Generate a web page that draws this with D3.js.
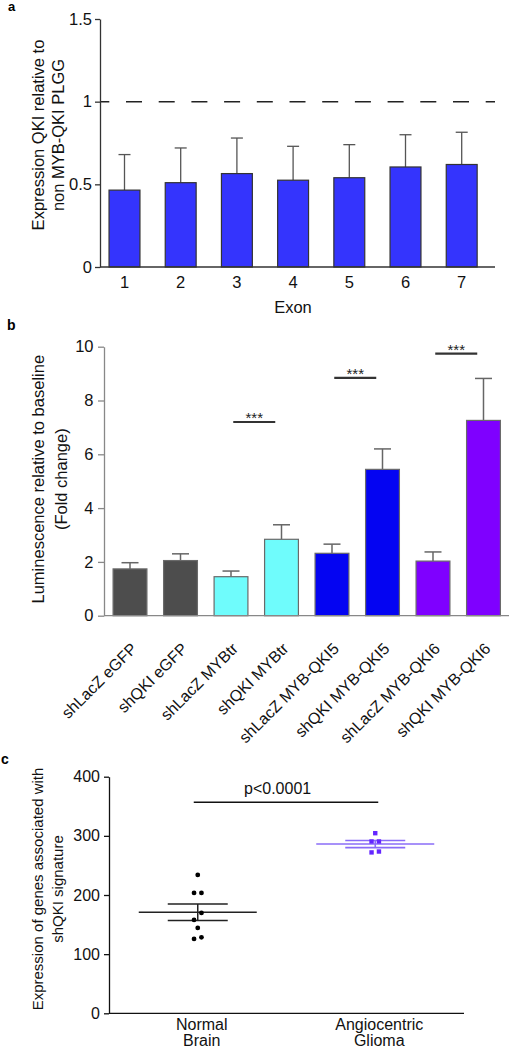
<!DOCTYPE html>
<html>
<head>
<meta charset="utf-8">
<script src="https://cdn.jsdelivr.net/npm/d3@7"></script>
<style>
  html, body { margin: 0; padding: 0; background: #fff; }
  svg { display: block; font-family: "Liberation Sans", Arial, sans-serif; }
</style>
</head>
<body>
<svg id="chart" width="509" height="1050"></svg>
<script>
// ---------- Panel a data ----------
const exons = ["1", "2", "3", "4", "5", "6", "7"];
const exonMeans = [0.465, 0.51, 0.565, 0.525, 0.54, 0.605, 0.62];
const exonErrTop = [0.68, 0.72, 0.78, 0.73, 0.74, 0.80, 0.815];
const aTicks = [0, 0.5, 1, 1.5];
const aRefLine = 1;

// ---------- Panel b data ----------
const conditions = ["shLacZ eGFP", "shQKI eGFP", "shLacZ MYBtr", "shQKI MYBtr",
                    "shLacZ MYB-QKI5", "shQKI MYB-QKI5", "shLacZ MYB-QKI6", "shQKI MYB-QKI6"];
const lumMeans = [1.74, 2.05, 1.45, 2.84, 2.32, 5.44, 2.03, 7.26];
const lumErrTop = [1.97, 2.30, 1.66, 3.38, 2.66, 6.20, 2.37, 8.82];
const conditionGroups = ["eGFP", "eGFP", "MYBtr", "MYBtr", "QKI5", "QKI5", "QKI6", "QKI6"];
const bTicks = [0, 2, 4, 6, 8, 10];
const sigPairsB = [["shLacZ MYBtr", "shQKI MYBtr"], ["shLacZ MYB-QKI5", "shQKI MYB-QKI5"], ["shLacZ MYB-QKI6", "shQKI MYB-QKI6"]];
const sigLevelsB = [7.2, 8.84, 9.74];
const sigLabelsB = ["***", "***", "***"];

// ---------- Panel c data ----------
const groupsC = ["Normal Brain", "Angiocentric Glioma"];
const groupLabelsC = [["Normal", "Brain"], ["Angiocentric", "Glioma"]];
const normalValues = [233.9, 203.5, 203.5, 169.7, 157.8, 144.3, 125.7, 128.5];
const gliomaValues = [304.5, 290.5, 290.5, 272.0, 273.5];
const cTicks = [0, 100, 200, 300, 400];
const cSigLevel = 357;
const cSigText = "p<0.0001";

// ---------- styles ----------
const FONT = "'Liberation Sans', Arial, sans-serif";
const groupColor = { eGFP: "#4d4d4d", MYBtr: "#6ffcfc", QKI5: "#0404f2", QKI6: "#7f00ff" };

const svg = d3.select("#chart");

function styleAxis(g, color, fs) {
  g.selectAll("path.domain").attr("stroke", color).attr("stroke-width", 1.3);
  g.selectAll(".tick line").attr("stroke", color).attr("stroke-width", 1.3);
  g.selectAll(".tick text").attr("fill", "#111").attr("font-size", fs).attr("font-family", FONT);
}

// ================= Panel a =================
(function () {
  const left = 100, right = 495, top = 19, bottom = 267;
  const y = d3.scaleLinear().domain([0, 1.5]).range([bottom, top]);
  const x = d3.scaleBand().domain(exons).range([97.8, 488.4]).paddingInner(0.45).paddingOuter(0.2);
  const g = svg.append("g");

  g.append("line").attr("x1", left).attr("x2", right).attr("y1", y(aRefLine)).attr("y2", y(aRefLine))
    .attr("stroke", "#222").attr("stroke-width", 1.5).attr("stroke-dasharray", "16 16.7").attr("stroke-dashoffset", 6.7);

  exons.forEach((e, i) => {
    const cx = x(e) + x.bandwidth() / 2;
    g.append("line").attr("x1", cx).attr("x2", cx).attr("y1", y(exonMeans[i])).attr("y2", y(exonErrTop[i]))
      .attr("stroke", "#555").attr("stroke-width", 1.3);
    g.append("line").attr("x1", cx - 6).attr("x2", cx + 6).attr("y1", y(exonErrTop[i])).attr("y2", y(exonErrTop[i]))
      .attr("stroke", "#555").attr("stroke-width", 1.3);
  });
  g.selectAll("rect.a").data(exons).join("rect")
    .attr("x", d => x(d)).attr("width", x.bandwidth())
    .attr("y", (d, i) => y(exonMeans[i])).attr("height", (d, i) => bottom - y(exonMeans[i]))
    .attr("fill", "#3434fd").attr("stroke", "#333").attr("stroke-width", 1.2);

  const ya = g.append("g").attr("transform", `translate(${left},0)`)
    .call(d3.axisLeft(y).tickValues(aTicks).tickFormat(d => String(d)).tickSize(5).tickSizeOuter(0).tickPadding(3));
  styleAxis(ya, "#333", 16.5);
  g.append("line").attr("x1", left).attr("x2", right).attr("y1", bottom).attr("y2", bottom)
    .attr("stroke", "#333").attr("stroke-width", 1.3);
  const xa = g.append("g").attr("transform", `translate(0,${bottom})`)
    .call(d3.axisBottom(x).tickSize(0).tickPadding(9));
  xa.select("path.domain").remove();
  styleAxis(xa, "#333", 16.5);

  g.append("text").attr("x", 293).attr("y", 313).attr("text-anchor", "middle")
    .attr("font-size", 16.5).attr("font-family", FONT).attr("fill", "#111").text("Exon");
  const lab = g.append("text").attr("transform", `translate(0,${(top + bottom) / 2 - 8}) rotate(-90)`)
    .attr("text-anchor", "middle").attr("font-size", 16.5).attr("font-family", FONT).attr("fill", "#111");
  lab.append("tspan").attr("x", 0).attr("y", 43.5).text("Expression QKI relative to");
  lab.append("tspan").attr("x", 0).attr("y", 63.5).text("non MYB-QKI PLGG");

  svg.append("text").attr("x", 8).attr("y", 11).attr("font-size", 13).attr("font-weight", "bold")
    .attr("font-family", FONT).text("a");
})();

// ================= Panel b =================
(function () {
  const left = 104, right = 509.5, top = 346.7, bottom = 615.7;
  const y = d3.scaleLinear().domain([0, 10]).range([bottom, top]);
  const x = d3.scaleBand().domain(conditions).range([left, right]).paddingInner(0.33).paddingOuter(0.18);
  const g = svg.append("g");
  const bw = x.bandwidth();

  conditions.forEach((c, i) => {
    const cx = x(c) + bw / 2;
    g.append("line").attr("x1", cx).attr("x2", cx).attr("y1", y(lumMeans[i])).attr("y2", y(lumErrTop[i]))
      .attr("stroke", "#666").attr("stroke-width", 1.5);
    g.append("line").attr("x1", cx - 8.5).attr("x2", cx + 8.5).attr("y1", y(lumErrTop[i])).attr("y2", y(lumErrTop[i]))
      .attr("stroke", "#666").attr("stroke-width", 1.5);
  });
  g.selectAll("rect.b").data(conditions).join("rect")
    .attr("x", d => x(d)).attr("width", bw)
    .attr("y", (d, i) => y(lumMeans[i])).attr("height", (d, i) => bottom - y(lumMeans[i]))
    .attr("fill", (d, i) => groupColor[conditionGroups[i]]).attr("stroke", "#6a6a6a").attr("stroke-width", 1.2);

  sigPairsB.forEach((p, i) => {
    const mid = (x(p[0]) + x(p[1]) + bw) / 2 - 2;
    const yy = y(sigLevelsB[i]);
    g.append("line").attr("x1", mid - 21).attr("x2", mid + 21).attr("y1", yy).attr("y2", yy)
      .attr("stroke", "#333").attr("stroke-width", 2.2);
    g.append("text").attr("x", mid).attr("y", yy + 1).attr("text-anchor", "middle")
      .attr("font-size", 15).attr("font-family", FONT).attr("fill", "#222").text(sigLabelsB[i]);
  });

  const ya = g.append("g").attr("transform", `translate(${left},0)`)
    .call(d3.axisLeft(y).tickValues(bTicks).tickSize(6).tickSizeOuter(0).tickPadding(4.5));
  styleAxis(ya, "#888", 16.5);
  g.append("line").attr("x1", left).attr("x2", right).attr("y1", bottom).attr("y2", bottom)
    .attr("stroke", "#888").attr("stroke-width", 1.3);

  g.selectAll("text.xl").data(conditions).join("text")
    .attr("transform", d => `translate(${x(d) + bw / 2 + 8},${bottom + 34}) rotate(-45)`)
    .attr("text-anchor", "end").attr("font-size", 16).attr("font-family", FONT).attr("fill", "#111")
    .text(d => d);

  const lab = g.append("text").attr("transform", `translate(0,${(top + bottom) / 2 - 2}) rotate(-90)`)
    .attr("text-anchor", "middle").attr("font-size", 16.5).attr("font-family", FONT).attr("fill", "#111");
  lab.append("tspan").attr("x", 0).attr("y", 44).text("Luminescence relative to baseline");
  lab.append("tspan").attr("x", 0).attr("y", 67).text("(Fold change)");

  svg.append("text").attr("x", 7).attr("y", 329.5).attr("font-size", 14).attr("font-weight", "bold")
    .attr("font-family", FONT).text("b");
})();

// ================= Panel c =================
(function () {
  const left = 109, right = 464, top = 776.7, bottom = 1013.3;
  const y = d3.scaleLinear().domain([0, 400]).range([bottom, top]);
  const x = d3.scalePoint().domain(groupsC).range([left, right]).padding(0.5);
  const g = svg.append("g");

  function stats(v) {
    const m = d3.mean(v);
    const sem = d3.deviation(v) / Math.sqrt(v.length);
    return { m, sem };
  }
  function arrange(v, cx, gap) {
    const order = v.map((d, i) => ({ d, i })).sort((a, b) => b.d - a.d);
    const rows = [];
    order.forEach(o => {
      const last = rows[rows.length - 1];
      if (last && Math.abs(y(last[0].d) - y(o.d)) < 7.5) last.push(o); else rows.push([o]);
    });
    const out = [];
    rows.forEach(r => {
      r.sort((a, b) => a.d - b.d);
      r.forEach((o, k) => out.push({ d: o.d, x: cx + (k - (r.length - 1) / 2) * gap }));
    });
    return out;
  }

  function drawGroup(values, cat, lineColor, lineW, drawPoint) {
    const cx = x(cat);
    const s = stats(values);
    g.append("line").attr("x1", cx - 59).attr("x2", cx + 59).attr("y1", y(s.m)).attr("y2", y(s.m))
      .attr("stroke", lineColor).attr("stroke-width", lineW);
    [s.m + s.sem, s.m - s.sem].forEach(v => {
      g.append("line").attr("x1", cx - 30).attr("x2", cx + 30).attr("y1", y(v)).attr("y2", y(v))
        .attr("stroke", lineColor).attr("stroke-width", lineW);
    });
    g.append("line").attr("x1", cx).attr("x2", cx).attr("y1", y(s.m + s.sem)).attr("y2", y(s.m - s.sem))
      .attr("stroke", lineColor).attr("stroke-width", lineW);
    arrange(values, cx, 7.4).forEach(p => drawPoint(p.x, y(p.d)));
  }

  drawGroup(normalValues, groupsC[0], "#222", 1.5, (px, py) => {
    g.append("circle").attr("cx", px).attr("cy", py).attr("r", 2.4).attr("fill", "#000");
  });
  drawGroup(gliomaValues, groupsC[1], "#8a6cf7", 1.6, (px, py) => {
    g.append("rect").attr("x", px - 2.2).attr("y", py - 2.2).attr("width", 4.4).attr("height", 4.4).attr("fill", "#6426ff");
  });

  const x1 = x(groupsC[0]) - 4, x2 = x(groupsC[1]) + 3;
  g.append("line").attr("x1", x1).attr("x2", x2).attr("y1", y(cSigLevel)).attr("y2", y(cSigLevel))
    .attr("stroke", "#111").attr("stroke-width", 1.5);
  g.append("text").attr("x", x(groupsC[0]) + 0.45 * (x(groupsC[1]) - x(groupsC[0]))).attr("y", y(cSigLevel) - 8)
    .attr("text-anchor", "middle").attr("font-size", 16).attr("font-family", FONT).attr("fill", "#111").text(cSigText);

  const ya = g.append("g").attr("transform", `translate(${left},0)`)
    .call(d3.axisLeft(y).tickValues(cTicks).tickSize(5).tickSizeOuter(0).tickPadding(4));
  styleAxis(ya, "#111", 16);
  g.append("line").attr("x1", left).attr("x2", right).attr("y1", bottom).attr("y2", bottom)
    .attr("stroke", "#111").attr("stroke-width", 1.3);

  groupsC.forEach((c, i) => {
    const t = g.append("text").attr("text-anchor", "middle").attr("font-size", 16).attr("font-family", FONT).attr("fill", "#111");
    groupLabelsC[i].forEach((ln, k) => {
      t.append("tspan").attr("x", x(c) + 4).attr("y", bottom + 16.5 + k * 16.5).text(ln);
    });
  });

  const lab = g.append("text").attr("transform", `translate(0,${(top + bottom) / 2 - 6}) rotate(-90)`)
    .attr("text-anchor", "middle").attr("font-size", 15).attr("font-family", FONT).attr("fill", "#111");
  lab.append("tspan").attr("x", 0).attr("y", 43).text("Expression of genes associated with");
  lab.append("tspan").attr("x", 0).attr("y", 63).text("shQKI signature");

  svg.append("text").attr("x", 1).attr("y", 764).attr("font-size", 14).attr("font-weight", "bold")
    .attr("font-family", FONT).text("c");
})();
</script>
</body>
</html>
